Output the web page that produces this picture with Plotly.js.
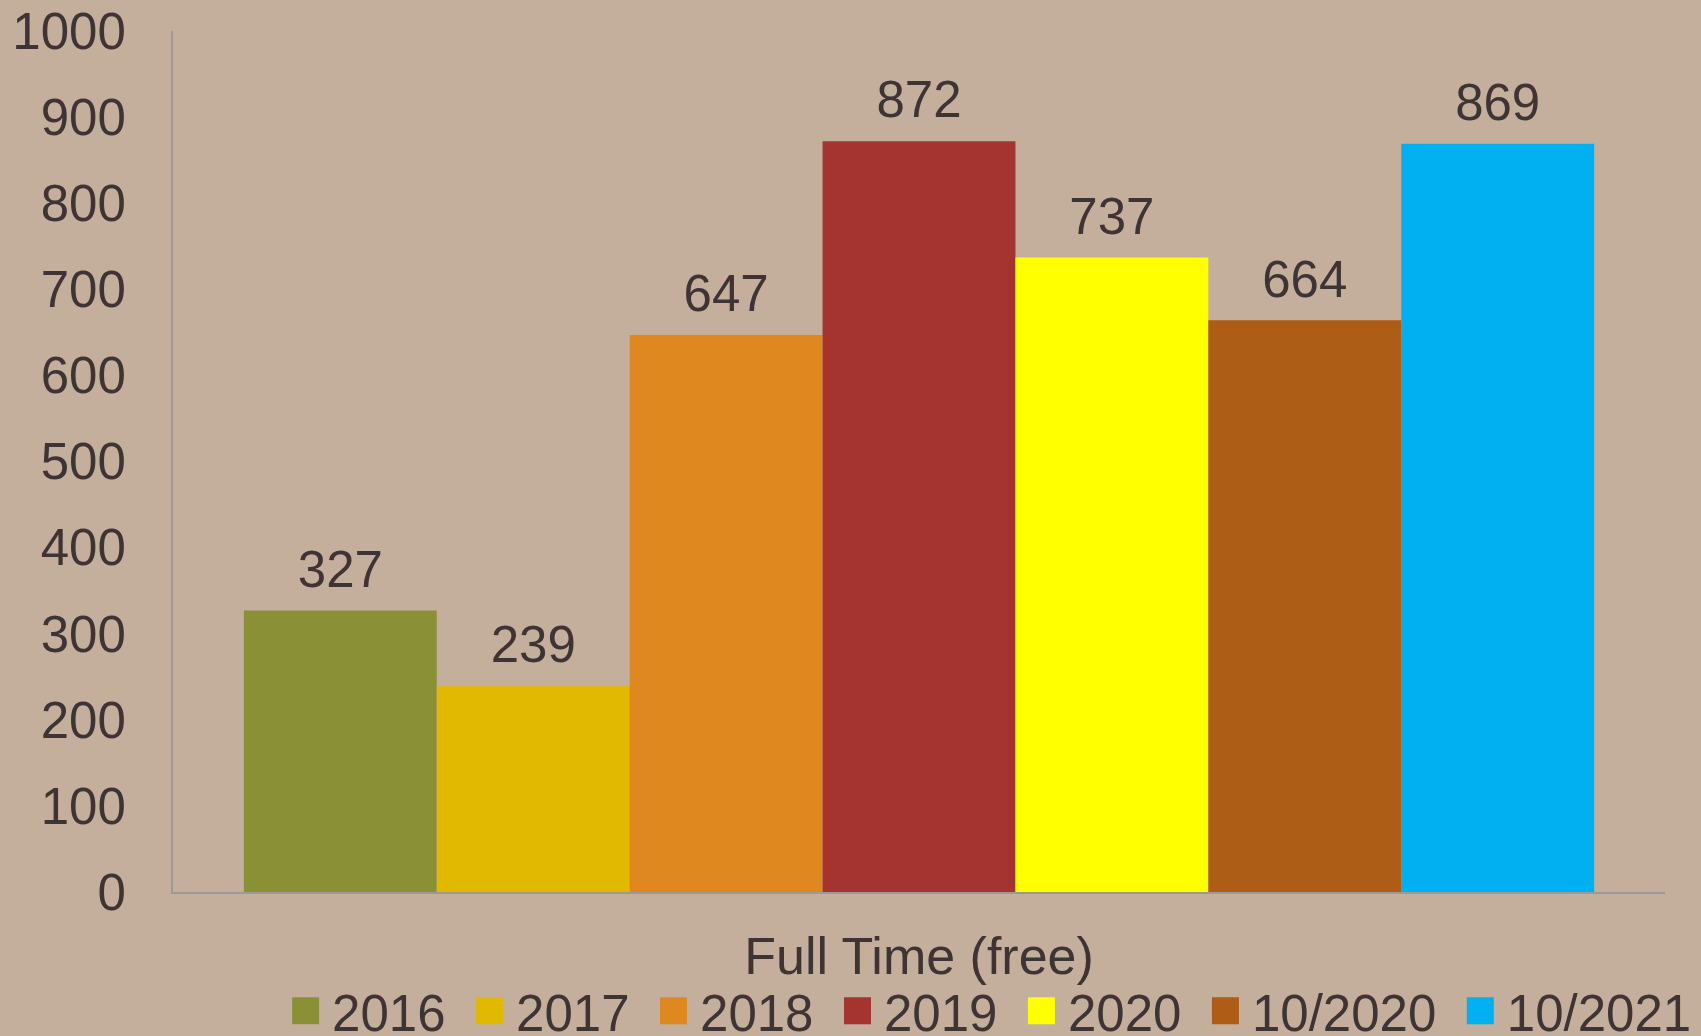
<!DOCTYPE html>
<html>
<head>
<meta charset="utf-8">
<script src="https://cdn.plot.ly/plotly-3.0.1.min.js"></script>
<style>html,body{margin:0;padding:0;background:#C4AF9D;}#chart{width:1701px;height:1036px;}</style>
</head>
<body>
<div id="chart"></div>
<script>
const category = "Full Time (free)";
const seriesNames = ["2016", "2017", "2018", "2019", "2020", "10/2020", "10/2021"];
const seriesValues = [327, 239, 647, 872, 737, 664, 869];
const seriesColors = ["#8A9035", "#E0B900", "#E08820", "#A5332F", "#FFFF00", "#AE5D17", "#00B0F0"];
const yTicks = [0, 100, 200, 300, 400, 500, 600, 700, 800, 900, 1000];

const textColor = "#3E3434";
const fontFamily = "Liberation Sans, Arial, sans-serif";
const FS = 51;

// bars (legend entries padded with an en space for Excel-like spacing)
const barTraces = seriesNames.map((name, i) => ({
  type: "bar",
  name: name + (i < seriesNames.length - 1 ? "\u2002" : ""),
  x: [category],
  y: [seriesValues[i]],
  marker: {color: seriesColors[i], line: {width: 0}},
  hoverinfo: "y"
}));

// value labels, grouped like the bars
const labelTraces = seriesNames.map((name, i) => ({
  type: "scatter",
  mode: "markers+text",
  x: [category],
  y: [seriesValues[i]],
  text: [String(seriesValues[i])],
  textposition: "top center",
  textfont: {size: FS, color: textColor, family: fontFamily},
  marker: {size: 16, opacity: 0, color: seriesColors[i]},
  cliponaxis: false,
  showlegend: false,
  hoverinfo: "skip"
}));

const layout = {
  width: 1701,
  height: 1036,
  paper_bgcolor: "#C4AF9D",
  plot_bgcolor: "#C4AF9D",
  margin: {l: 173, r: 36, t: 31, b: 144, pad: 0},
  barmode: "group",
  bargap: 0.095,
  bargroupgap: 0,
  scattermode: "group",
  scattergap: 0.095,
  font: {family: fontFamily, color: textColor, size: FS},
  showlegend: true,
  legend: {
    orientation: "h",
    xref: "container",
    yref: "container",
    x: 0.9977,
    y: 0.024,
    xanchor: "right",
    yanchor: "middle",
    font: {size: FS, color: textColor, family: fontFamily},
    bgcolor: "rgba(0,0,0,0)",
    traceorder: "normal"
  },
  xaxis: {
    type: "category",
    showline: true,
    linecolor: "#9A9A9A",
    linewidth: 2,
    showgrid: false,
    zeroline: false,
    ticks: "",
    tickfont: {size: 52, color: textColor, family: fontFamily},
    ticklabelstandoff: 18
  },
  yaxis: {
    range: [0, 1000],
    tickvals: yTicks,
    ticktext: yTicks.map(String),
    showline: true,
    linecolor: "#9A9A9A",
    linewidth: 2,
    showgrid: false,
    zeroline: false,
    ticks: "",
    tickfont: {size: FS, color: textColor, family: fontFamily},
    ticklabelstandoff: 35
  }
};

Plotly.newPlot("chart", barTraces.concat(labelTraces), layout, {displayModeBar: false, staticPlot: true}).then(function (gd) {
  // enlarge the legend swatches to Excel-like squares (keep Plotly's own offset)
  gd.querySelectorAll(".legend .legendpoints path").forEach(function (p) {
    const base = p.getAttribute("transform") || "";
    p.setAttribute("transform", (base + " translate(-6.5,0) scale(2.25)").trim());
  });
});
</script>
</body>
</html>
